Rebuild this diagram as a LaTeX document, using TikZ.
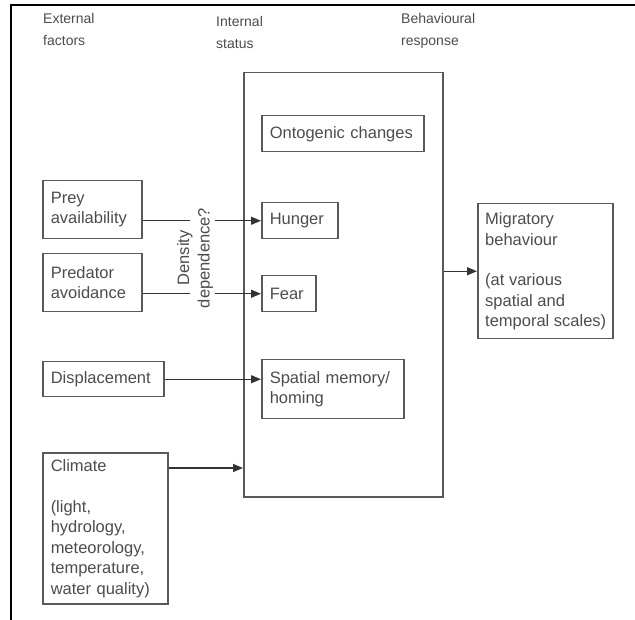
\documentclass[tikz,border=0pt]{standalone}
\usepackage{fontspec}
\setmainfont{Liberation Sans}
\usetikzlibrary{arrows.meta,positioning}

\definecolor{inkgray}{gray}{0.3}
\definecolor{edgegray}{gray}{0.35}

\tikzset{
  every node/.style={font=\fontsize{16.5}{20.5}\selectfont, text=inkgray},
  box/.style={draw=edgegray, line width=1.5pt, anchor=north west,
              inner xsep=8pt, inner ysep=0pt, align=left},
  head/.style={anchor=north west, inner sep=0pt, align=left,
               font=\fontsize{14}{22}\selectfont},
  link/.style={draw=black!80, line width=1.3pt},
  arr/.style={link, -{Triangle[length=10pt,width=8pt]}},
}

\begin{document}
\begin{tikzpicture}[x=1pt,y=-1pt]
\useasboundingbox (0,0) rectangle (635,620);

% outer frame (top and left rules only)
\draw[line width=1.8pt, black] (11,620) -- (11,5) -- (635,5);

% column headings
\node[head] (hExt) at (43,13) {External\\factors};
\node[head] (hInt) at (216,16) {Internal\\status};
\node[head] (hBeh) at (401,13) {Behavioural\\response};

% internal status container
\node[box, minimum width=199pt, minimum height=424pt, inner sep=0pt] (status) at (243,72) {};

% internal states
\node[box, text width=146pt, minimum height=36pt] (onto) at (261,115) {Ontogenic changes};
\node[box, text width=60pt,  minimum height=36pt] (hunger) at (261,202) {Hunger};
\node[box, text width=38pt,  minimum height=36pt] (fear) at (261,275) {Fear};
\node[box, text width=126pt, minimum height=59pt] (spatial) at (261,359) {Spatial memory/\\homing};

% external factors
\node[box, text width=83pt,  minimum height=58pt] (prey) at (42,180) {Prey\\availability};
\node[box, text width=83pt,  minimum height=58pt] (pred) at (42,253) {Predator\\avoidance};
\node[box, text width=105pt, minimum height=35pt] (disp) at (42,361) {Displacement};
\node[box, text width=109pt, minimum height=151pt] (climate) at (42,452)
  {Climate\\[20.5pt](light,\\hydrology,\\meteorology,\\temperature,\\water quality)};

% behavioural response: frame, then its text set flush from the left edge
\node[box, minimum width=135pt, minimum height=135pt, inner sep=0pt] (migr) at (477,203) {};
\node[anchor=west, align=left, inner sep=0pt] (migrText) at ([xshift=8pt]migr.west)
  {Migratory\\behaviour\\[20pt](at various\\spatial and\\temporal scales)};

% density-dependence label across the two upper links
\node[rotate=90, align=center, inner sep=0pt] (dens) at (195,258) {Density\\dependence?};

% gap edges around the label
\coordinate (gapL) at (190,0);
\coordinate (gapR) at (215,0);

% links into the internal states
\draw[link] (hunger.west -| prey.east) -- (hunger.west -| gapL);
\draw[arr]  (hunger.west -| gapR) -- (hunger.west);
\draw[link] (fear.west -| pred.east) -- (fear.west -| gapL);
\draw[arr]  (fear.west -| gapR) -- (fear.west);
\draw[arr]  (disp.east) -- (disp.east -| spatial.west);
\draw[arr]  ([yshift=-16pt]climate.north east) -- ([yshift=-16pt]climate.north east -| status.west);

% response link
\draw[arr]  (migr.west -| status.east) -- (migr.west);
\end{tikzpicture}
\end{document}
